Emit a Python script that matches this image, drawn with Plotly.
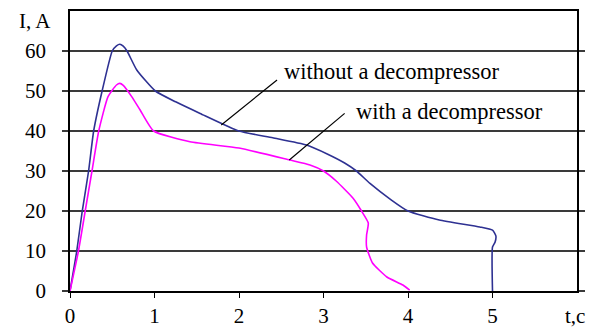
import plotly.graph_objects as go

# Data
t_without = [0, 0.08, 0.145, 0.22, 0.28, 0.38, 0.50, 0.55, 0.59, 0.63, 0.675, 0.79, 1.01, 1.25, 1.54, 2.0,
             2.4, 2.8, 3.05, 3.25, 3.39, 3.55, 3.8, 4.0, 4.37, 4.85, 5.0, 5.04, 5.03, 5.0, 5.0]
i_without = [0, 10, 20, 30, 40, 50, 60, 61.3, 61.7, 61.2, 60, 55.25, 50, 47.3, 44.4, 40,
             38.3, 36.5, 34.2, 32, 30, 26.9, 22.8, 20, 17.75, 16, 15.2, 13.8, 12.2, 11, 0]

t_with = [0, 0.10, 0.18, 0.26, 0.34, 0.45, 0.55, 0.59, 0.63, 0.73, 0.83, 0.99, 1.42, 2.0, 2.6, 2.84, 3.0,
          3.15, 3.35, 3.45, 3.53, 3.51, 3.51, 3.58, 3.75, 3.94, 4.02]
i_with = [0, 10, 20, 30, 40, 48.6, 51.5, 51.9, 51.4, 48.6, 45.25, 40, 37.3, 35.75, 32.75, 31.5, 30,
          27.5, 23.2, 20, 17, 14, 11, 7, 3.5, 1.5, 0.2]

x_ticks = [0, 1, 2, 3, 4, 5]
y_ticks = [0, 10, 20, 30, 40, 50, 60]

labels = ["without a decompressor", "with a decompressor"]
# leader line ends (start at label, end at curve) in data units
leader_without = [(2.45, 52.75), (1.79, 41.5)]
leader_with = [(3.25, 44.4), (2.595, 32.75)]

FONT = "Liberation Serif"
BLUE = "#2E3192"
PINK = "#FF00FF"

# page body has an 8px margin; plot area wanted at window px: left 70, right 577, top 11, bottom 291
OFF = 8
W, H = 594, 327
PL, PR, PT, PB = 70, 577, 11, 291

fig = go.Figure()
fig.add_trace(go.Scatter(x=t_without, y=i_without, mode="lines",
                         line=dict(color=BLUE, width=1.6, shape="spline", smoothing=0.5),
                         name=labels[0]))
fig.add_trace(go.Scatter(x=t_with, y=i_with, mode="lines",
                         line=dict(color=PINK, width=1.6, shape="spline", smoothing=0.5),
                         name=labels[1]))

for (p0, p1) in (leader_without, leader_with):
    fig.add_shape(type="line", xref="x", yref="y", x0=p0[0], y0=p0[1], x1=p1[0], y1=p1[1],
                  line=dict(color="black", width=1.2))

fig.add_annotation(x=2.51, y=54.9, xref="x", yref="y", text=labels[0], showarrow=False,
                   xanchor="left", yanchor="middle", font=dict(family=FONT, size=22.5, color="black"))
fig.add_annotation(x=3.36, y=45.0, xref="x", yref="y", text=labels[1], showarrow=False,
                   xanchor="left", yanchor="middle", font=dict(family=FONT, size=22.5, color="black"))

# axis-title labels, placed by window pixel position
fig.add_annotation(x=(17 - PL) / (PR - PL), y=(PB - 21) / (PB - PT), xref="paper", yref="paper",
                   text="I, A", showarrow=False, xanchor="left", yanchor="middle",
                   font=dict(family=FONT, size=21, color="black"))
fig.add_annotation(x=(575 - PL) / (PR - PL), y=(PB - 316) / (PB - PT), xref="paper", yref="paper",
                   text="t,c", showarrow=False, xanchor="center", yanchor="middle",
                   font=dict(family=FONT, size=21, color="black"))

fig.update_xaxes(range=[0, 6], tickvals=x_ticks, ticktext=[str(v) for v in x_ticks],
                 showgrid=False, zeroline=False, showline=True, linecolor="black", linewidth=1.6,
                 mirror=True, ticks="outside", ticklen=5, tickcolor="black", tickwidth=1.2,
                 automargin=False,
                 tickfont=dict(family=FONT, size=21, color="black"))
fig.update_yaxes(range=[0, 70], tickvals=y_ticks, ticktext=[str(v) for v in y_ticks],
                 showgrid=True, gridcolor="#3a3a3a", gridwidth=1.6, zeroline=False,
                 showline=True, linecolor="black", linewidth=1.6, mirror="ticks",
                 ticks="outside", ticklen=6, tickcolor="#3a3a3a", tickwidth=1.6,
                 ticklabelstandoff=12, automargin=False,
                 tickfont=dict(family=FONT, size=21, color="black"))

fig.update_layout(width=W - OFF, height=H - OFF,
                  margin=dict(l=PL - OFF, r=W - PR, t=PT - OFF, b=H - PB),
                  paper_bgcolor="white", plot_bgcolor="white", showlegend=False)

fig.write_html("out.html")
